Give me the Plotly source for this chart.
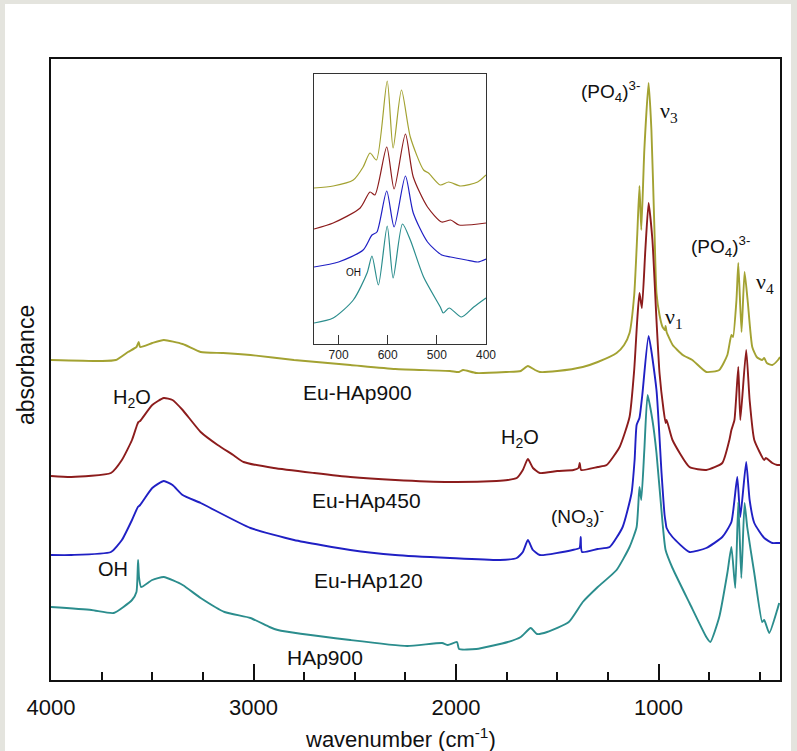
import plotly.graph_objects as go

# ---------------- data (absorbance in arbitrary units, offset per sample) ----------------
wn_eu900 = [4000, 3750, 3680, 3620, 3578, 3567, 3560, 3500, 3443, 3350, 3261, 3150, 3015, 2800, 2522, 2300,
            2030, 1985, 1965, 1900, 1750, 1680, 1645, 1610, 1586, 1500, 1374, 1300, 1207, 1170, 1143, 1120,
            1105, 1094, 1085, 1070, 1049, 1035, 1020, 1010, 995, 980, 968, 965, 960, 930, 880, 833, 764,
            700, 660, 640, 632, 615, 606, 590, 575, 560, 537, 515, 488, 478, 465, 438, 410, 400]
ab_eu900 = [3.20, 3.19, 3.20, 3.28, 3.33, 3.38, 3.33, 3.37, 3.40, 3.36, 3.28, 3.27, 3.25, 3.20, 3.15, 3.11,
            3.09, 3.08, 3.10, 3.07, 3.08, 3.09, 3.14, 3.10, 3.08, 3.09, 3.13, 3.18, 3.27, 3.35, 3.47, 3.85,
            4.45, 4.94, 4.50, 5.30, 5.97, 5.50, 4.50, 3.87, 3.65, 3.53, 3.50, 3.54, 3.48, 3.35, 3.25, 3.20, 3.08,
            3.10, 3.25, 3.45, 3.43, 3.80, 4.17, 3.48, 4.08, 3.80, 3.33, 3.23, 3.20, 3.22, 3.17, 3.15, 3.20, 3.23]

wn_eu450 = [4000, 3900, 3704, 3650, 3600, 3575, 3568, 3560, 3500, 3443, 3400, 3350, 3261, 3177, 3100, 3049,
            2900, 2700, 2522, 2300, 2030, 1800, 1744, 1700, 1670, 1645, 1620, 1586, 1500, 1420, 1395, 1389,
            1382, 1300, 1256, 1192, 1143, 1120, 1105, 1094, 1082, 1065, 1049, 1030, 1010, 995, 975, 965, 960,
            931, 847, 764, 685, 650, 640, 625, 606, 596, 567, 550, 527, 478, 470, 438, 414, 400]
ab_eu450 = [2.04, 2.03, 2.07, 2.20, 2.40, 2.55, 2.58, 2.59, 2.75, 2.82, 2.80, 2.70, 2.48, 2.35, 2.25, 2.18,
            2.12, 2.07, 2.03, 2.00, 1.98, 1.99, 2.00, 2.02, 2.10, 2.21, 2.12, 2.07, 2.09, 2.10, 2.12, 2.17,
            2.10, 2.13, 2.15, 2.33, 2.63, 3.10, 3.60, 3.87, 3.72, 4.30, 4.77, 4.40, 3.60, 3.07, 2.70, 2.57, 2.60,
            2.40, 2.13, 2.10, 2.17, 2.40, 2.50, 2.60, 3.13, 2.60, 3.30, 2.80, 2.40, 2.20, 2.22, 2.17, 2.15, 2.15]

wn_eu120 = [4000, 3900, 3704, 3650, 3600, 3571, 3560, 3500, 3443, 3400, 3350, 3261, 3015, 2800, 2522, 2300,
            2030, 1783, 1700, 1670, 1645, 1620, 1586, 1424, 1390, 1384, 1378, 1300, 1241, 1177, 1133, 1118,
            1108, 1094, 1080, 1049, 1010, 985, 970, 965, 960, 931, 847, 764, 685, 640, 611, 596, 567, 550,
            527, 478, 438, 414, 400]
ab_eu120 = [1.25, 1.25, 1.28, 1.40, 1.60, 1.73, 1.75, 1.92, 1.99, 1.95, 1.85, 1.77, 1.52, 1.40, 1.30, 1.25,
            1.22, 1.20, 1.22, 1.28, 1.40, 1.30, 1.25, 1.30, 1.32, 1.43, 1.28, 1.31, 1.33, 1.53, 1.87, 2.20,
            2.55, 2.62, 2.85, 3.44, 2.90, 2.07, 1.65, 1.58, 1.52, 1.43, 1.28, 1.32, 1.43, 1.58, 2.03, 1.63, 2.18, 1.80,
            1.57, 1.42, 1.37, 1.37, 1.37]

wn_hap900 = [4000, 3800, 3690, 3600, 3578, 3570, 3565, 3555, 3500, 3443, 3350, 3261, 3143, 3015, 2921, 2880,
             2522, 2241, 2069, 2040, 1995, 1985, 1900, 1744, 1680, 1631, 1600, 1550, 1443, 1374, 1300, 1207, 1143,
             1108, 1094, 1085, 1070, 1054, 1030, 1010, 980, 965, 931, 847, 764, 744, 700, 660, 640, 621, 606,
             591, 575, 562, 527, 488, 478, 453, 414, 404]
ab_hap900 = [0.73, 0.70, 0.67, 0.80, 0.88, 1.20, 1.02, 0.93, 1.00, 1.03, 0.95, 0.82, 0.68, 0.62, 0.53, 0.50,
             0.40, 0.34, 0.37, 0.35, 0.38, 0.31, 0.31, 0.38, 0.43, 0.52, 0.46, 0.48, 0.58, 0.78, 0.93, 1.10, 1.33,
             1.53, 1.93, 1.80, 2.30, 2.85, 2.60, 2.27, 1.57, 1.30, 1.12, 0.77, 0.43, 0.38, 0.63, 1.07, 1.33, 0.92, 1.78,
             1.02, 1.77, 1.53, 1.07, 0.58, 0.60, 0.47, 0.70, 0.77]

# inset (750-400 cm-1)
in_wn_eu900 = [750, 711, 670, 650, 636, 623, 601, 589, 572, 554, 527, 517, 493, 476, 452, 417, 400]
in_ab_eu900 = [1.56, 1.58, 1.64, 1.77, 1.91, 1.84, 2.63, 1.96, 2.54, 2.07, 1.74, 1.71, 1.59, 1.62, 1.58, 1.62, 1.69]
in_wn_eu450 = [750, 711, 656, 636, 626, 602, 587, 564, 548, 519, 490, 472, 455, 400]
in_ab_eu450 = [1.15, 1.21, 1.36, 1.52, 1.49, 1.97, 1.55, 2.10, 1.67, 1.37, 1.22, 1.24, 1.19, 1.21]
in_wn_eu120 = [750, 700, 650, 632, 622, 602, 587, 564, 548, 519, 490, 472, 440, 417, 400]
in_ab_eu120 = [0.77, 0.82, 0.94, 1.09, 1.12, 1.53, 1.17, 1.68, 1.31, 1.02, 0.89, 0.87, 0.84, 0.82, 0.85]
in_wn_hap900 = [750, 711, 670, 642, 632, 619, 601, 589, 570, 554, 527, 493, 487, 475, 450, 425, 400]
in_ab_hap900 = [0.21, 0.26, 0.44, 0.71, 0.88, 0.59, 1.18, 0.66, 1.20, 1.04, 0.67, 0.37, 0.31, 0.36, 0.27, 0.37, 0.46]

names = ["Eu-HAp900", "Eu-HAp450", "Eu-HAp120", "HAp900"]
colors = ["#a3a232", "#8c1c1c", "#2020c4", "#2b8d8d"]
main_x = [wn_eu900, wn_eu450, wn_eu120, wn_hap900]
main_y = [ab_eu900, ab_eu450, ab_eu120, ab_hap900]
ins_x = [in_wn_eu900, in_wn_eu450, in_wn_eu120, in_wn_hap900]
ins_y = [in_ab_eu900, in_ab_eu450, in_ab_eu120, in_ab_hap900]

x_ticks = [4000, 3000, 2000, 1000]
inset_ticks = [700, 600, 500, 400]

# ---------------- figure ----------------
W, H = 797, 751
L, R, T, B = 51, 17, 59, 71
PW, PH = W - L - R, H - T - B

def px(x):
    return (x - L) / PW

def py(y):
    return (H - B - y) / PH

SANS = "Arial, Liberation Sans, sans-serif"
SERIF = "Times New Roman, Liberation Serif, serif"

fig = go.Figure()
for n, c, xs, ys in zip(names, colors, main_x, main_y):
    fig.add_trace(go.Scatter(x=xs, y=ys, mode="lines", name=n,
                             line=dict(color=c, width=1.9, shape="spline", smoothing=0.5),
                             xaxis="x", yaxis="y", showlegend=False))
for n, c, xs, ys in zip(names, colors, ins_x, ins_y):
    fig.add_trace(go.Scatter(x=xs, y=ys, mode="lines", name=n + " (inset)",
                             line=dict(color=c, width=1.2, shape="spline", smoothing=0.7),
                             xaxis="x2", yaxis="y2", showlegend=False))

ann = []
def label(text, x, y, size=21, family=SANS, angle=0):
    ann.append(dict(text=text, x=px(x), y=py(y), xref="paper", yref="paper",
                    showarrow=False, xanchor="center", yanchor="middle", textangle=angle,
                    font=dict(family=family, size=size, color="#111")))

label("(PO<sub>4</sub>)<sup>3-</sup>", 610, 91, 19)
label("ν<sub>3</sub>", 669, 112, 22, SERIF)
label("(PO<sub>4</sub>)<sup>3-</sup>", 720, 246, 19)
label("ν<sub>4</sub>", 765, 283, 22, SERIF)
label("ν<sub>1</sub>", 674, 318, 22, SERIF)
label("H<sub>2</sub>O", 132, 398, 20)
label("Eu-HAp900", 357, 393, 21)
label("H<sub>2</sub>O", 520, 438, 20)
label("Eu-HAp450", 366, 500, 21)
label("(NO<sub>3</sub>)<sup>-</sup>", 577, 516, 19)
label("Eu-HAp120", 368, 580, 21)
label("OH", 113, 569, 20)
label("HAp900", 325, 657, 21)
label("OH", 353, 272, 10)
# axis titles
label("wavenumber (cm<sup>-1</sup>)", 400, 738, 22)
label("absorbance", 26, 365, 23, angle=-90)

shapes = [dict(type="rect", xref="paper", yref="paper", layer="below",
               x0=px(5), x1=px(791), y0=py(4), y1=py(H + 5),
               fillcolor="white", line=dict(width=0))]

fig.update_layout(
    width=W, height=H,
    margin=dict(l=L, r=R, t=T, b=B, autoexpand=False),
    paper_bgcolor="#e4e4de", plot_bgcolor="white",
    font=dict(family=SANS, color="#111"),
    annotations=ann, shapes=shapes,
    xaxis=dict(domain=[0, 1], range=[4000, 400], tickvals=x_ticks, ticks="inside", ticklen=16,
               tickwidth=2, tickcolor="#111", showline=True, linewidth=2, linecolor="#111",
               mirror=True, showgrid=False, zeroline=False, automargin=False, ticklabelstandoff=7,
               tickfont=dict(size=22, family=SANS, color="#111"),
               minor=dict(dtick=250, tick0=0, ticks="inside", ticklen=8, tickwidth=2, tickcolor="#111",
                          showgrid=False)),
    yaxis=dict(domain=[0, 1], range=[0, 6.21], showticklabels=False, ticks="", showline=True,
               linewidth=2, linecolor="#111", mirror=True, showgrid=False, zeroline=False, automargin=False),
    xaxis2=dict(domain=[px(314), px(486)], anchor="y2", range=[750, 400], tickvals=inset_ticks,
                ticks="inside", ticklen=9, tickwidth=1, tickcolor="#333", showline=True, linewidth=1,
                linecolor="#333", mirror=True, showgrid=False, zeroline=False, automargin=False,
                tickfont=dict(size=12, family=SANS, color="#222")),
    yaxis2=dict(domain=[py(344), py(74)], anchor="x2", range=[0, 2.70], showticklabels=False, ticks="",
                showline=True, linewidth=1, linecolor="#333", mirror=True, showgrid=False, zeroline=False,
                automargin=False),
)

fig.write_html("out.html", config={"displayModeBar": False},
               post_script="document.body.style.margin='0';document.body.style.overflow='hidden';")
